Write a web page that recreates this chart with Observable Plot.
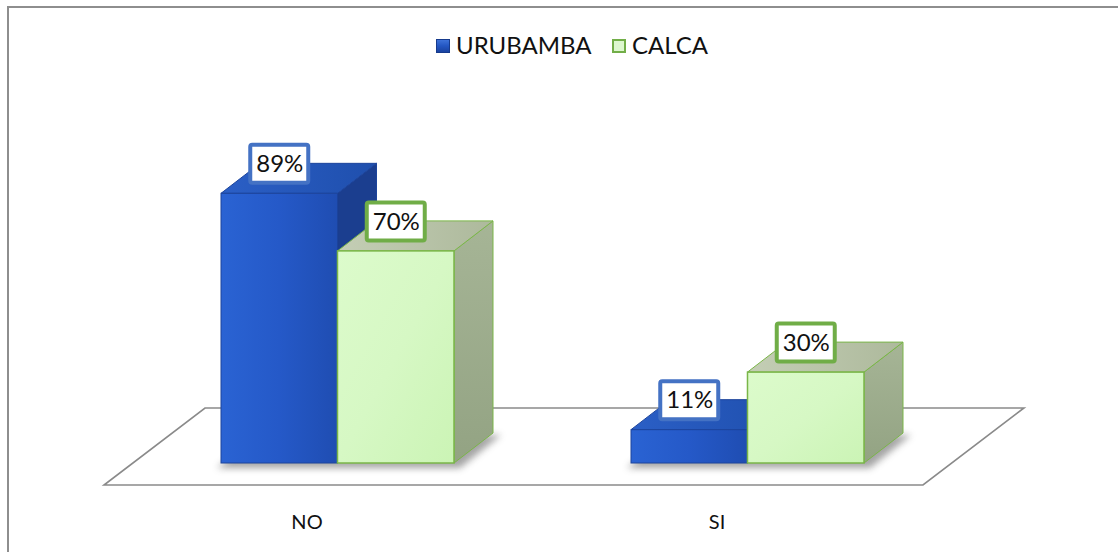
<!DOCTYPE html>
<html>
<head>
<meta charset="utf-8">
<script src="https://cdn.jsdelivr.net/npm/d3@7"></script>
<script src="https://cdn.jsdelivr.net/npm/@observablehq/plot@0.6"></script>
<style>
  html, body { margin: 0; padding: 0; background: #fff; }
  #wrap { position: relative; width: 1118px; height: 552px; overflow: hidden; font-family: Lato, "Open Sans", sans-serif; }
  #frame { position: absolute; left: 7px; top: 6px; width: 1300px; height: 800px; border-left: 2px solid #8e8e8e; border-top: 2px solid #8e8e8e; box-sizing: border-box; }
  #chart { position: absolute; left: 0; top: 0; }
  .lg-sw { position: absolute; width: 14px; height: 14px; box-sizing: border-box; }
  .lg-tx { position: absolute; font-size: 24px; line-height: 24px; color: #111; white-space: nowrap; }
</style>
</head>
<body>
<div id="wrap">
  <div id="frame"></div>
  <div id="chart"></div>
  <div id="legend"></div>
</div>
<script>
// ---- data ----
const categories = ["NO", "SI"];
const series = ["URUBAMBA", "CALCA"];
const urubamba = [89, 11];
const calca = [70, 30];

const rows = categories.flatMap((c, i) => [
  {cat: c, series: series[0], value: urubamba[i]},
  {cat: c, series: series[1], value: calca[i]}
]);
const rowsU = rows.filter(d => d.series === series[0]);
const rowsC = rows.filter(d => d.series === series[1]);

// ---- layout / style ----
const XR = [133, 952], PI = 0.4324, PO = 0.2138;
const BW = d3.scaleBand(categories, XR).paddingInner(PI).paddingOuter(PO).bandwidth();
const HALF = BW / 2;
const DX = 39, DY = -30;              // bar depth
const FF = [-29, 22], FB = [72, -55]; // floor front/back offsets

const pal = {
  [series[0]]: {front: "url(#gBlueFront)", top: "url(#gBlueTop)", side: "#1b3e8f", stroke: "#1c449c", box: "#4472c4"},
  [series[1]]: {front: "url(#gGreenFront)", top: "url(#gGreenTop)", side: "url(#gGreenSide)", stroke: "#7ab648", box: "#70ad47"}
};

const pathOf = pts => "M" + pts.map(p => p.join(",")).join("L") + "Z";
const bwOf = x => (x.bandwidth ? x.bandwidth() : BW);

function defsMark() {
  const g = d3.create("svg:g");
  const defs = g.append("defs");
  const lin = (id, stops, x2 = "0", y2 = "1") => {
    const lg = defs.append("linearGradient").attr("id", id).attr("x1", 0).attr("y1", 0).attr("x2", x2).attr("y2", y2);
    stops.forEach(([o, c]) => lg.append("stop").attr("offset", o).attr("stop-color", c));
  };
  lin("gBlueFront", [[0, "#2a63d3"], [0.5, "#2559c8"], [1, "#1f4db2"]], "1", "0");
  lin("gBlueTop", [[0, "#2b5fc6"], [1, "#1f4fad"]], "1", "0");
  lin("gGreenFront", [[0, "#dcfbcb"], [0.5, "#d6f8c4"], [1, "#cbf4b5"]], "1", "1");
  lin("gGreenTop", [[0, "#c4ceb5"], [1, "#adb99c"]], "1", "0");
  lin("gGreenSide", [[0, "#a6b596"], [1, "#93a383"]], "0", "1");
  const f = defs.append("filter").attr("id", "fShadow").attr("x", "-20%").attr("y", "-50%").attr("width", "140%").attr("height", "200%");
  f.append("feGaussianBlur").attr("stdDeviation", 3.5);
  return g.node();
}

function floorMark(index, scales) {
  const x = scales.x, y = scales.y;
  const r = x.range ? x.range() : XR;
  const x0 = r[0], x1 = r[1], y0 = y(0);
  const g = d3.create("svg:g");
  g.append("path")
    .attr("d", pathOf([[x0 + FF[0], y0 + FF[1]], [x1 + FF[0], y0 + FF[1]], [x1 + FB[0], y0 + FB[1]], [x0 + FB[0], y0 + FB[1]]]))
    .attr("fill", "#fff").attr("stroke", "#8a8a8a").attr("stroke-width", 1.6);
  // soft shadows under each bar group
  for (const c of categories) {
    const xa = x(c), bw = bwOf(x), yb = y(0);
    g.append("path")
      .attr("d", pathOf([[xa - 4, yb + 5], [xa + bw + 6, yb + 5], [xa + bw + DX + 8, yb + DY + 2], [xa + DX, yb + DY + 2]]))
      .attr("fill", "#5a5a5a").attr("opacity", 0.55).attr("filter", "url(#fShadow)");
  }
  return g.node();
}

function facesMark(data) {
  return (index, scales) => {
    const x = scales.x, y = scales.y, half = bwOf(x) / 2;
    const g = d3.create("svg:g");
    for (const d of data) {
      const p = pal[d.series];
      const xa = x(d.cat) + (d.series === series[0] ? 0 : half), xb = xa + half;
      const yt = y(d.value), yb = y(0);
      g.append("path").attr("d", pathOf([[xb, yt], [xb + DX, yt + DY], [xb + DX, yb + DY], [xb, yb]]))
        .attr("fill", p.side).attr("stroke", p.stroke).attr("stroke-width", 1).attr("stroke-linejoin", "round");
      g.append("path").attr("d", pathOf([[xa, yt], [xb, yt], [xb + DX, yt + DY], [xa + DX, yt + DY]]))
        .attr("fill", p.top).attr("stroke", p.stroke).attr("stroke-width", 1).attr("stroke-linejoin", "round");
    }
    return g.node();
  };
}

function boxesMark(index, scales) {
  const x = scales.x, y = scales.y, half = bwOf(x) / 2;
  const g = d3.create("svg:g");
  for (const d of rows) {
    const cx = x(d.cat) + (d.series === series[0] ? half / 2 : 1.5 * half);
    const cy = y(d.value) - 29.5;
    g.append("rect").attr("x", cx - 29).attr("y", cy - 19).attr("width", 58).attr("height", 38)
      .attr("rx", 2).attr("fill", "#fff").attr("stroke", pal[d.series].box).attr("stroke-width", 4);
  }
  return g.node();
}

const chart = Plot.plot({
  width: 1118,
  height: 552,
  marginTop: 160,
  marginBottom: 89,
  marginLeft: XR[0],
  marginRight: 1118 - XR[1],
  x: {domain: categories, range: XR, paddingInner: PI, paddingOuter: PO, axis: null},
  y: {domain: [0, 100], axis: null},
  style: {background: "transparent", fontFamily: "Lato, 'Open Sans', sans-serif", overflow: "visible"},
  marks: [
    defsMark,
    floorMark,
    facesMark(rowsU),
    Plot.barY(rowsU, {x: "cat", y: "value", insetRight: HALF, fill: pal[series[0]].front, stroke: pal[series[0]].stroke, strokeWidth: 1}),
    facesMark(rowsC),
    Plot.barY(rowsC, {x: "cat", y: "value", insetLeft: HALF, fill: pal[series[1]].front, stroke: pal[series[1]].stroke, strokeWidth: 1.5}),
    boxesMark,
    Plot.text(rowsU, {x: "cat", y: "value", text: d => d.value + "%", dx: -HALF / 2, dy: -29.5, fontSize: 24, fill: "#111"}),
    Plot.text(rowsC, {x: "cat", y: "value", text: d => d.value + "%", dx: HALF / 2, dy: -29.5, fontSize: 24, fill: "#111"}),
    Plot.text(categories, {x: d => d, y: () => 0, text: d => d, dx: -31, dy: 59, fontSize: 20, fill: "#111"})
  ]
});
document.getElementById("chart").appendChild(chart);

// ---- legend ----
const legend = document.getElementById("legend");
const legendItems = [
  {name: series[0], sx: 436, tx: 456, bg: "linear-gradient(180deg,#3d72d9 0%,#2356c2 50%,#1a43a0 100%)", border: "1px solid #163a8c"},
  {name: series[1], sx: 612, tx: 632, bg: "#ddf7cf", border: "2px solid #72ae48"}
];
for (const it of legendItems) {
  const sw = document.createElement("div");
  sw.className = "lg-sw";
  sw.style.left = it.sx + "px"; sw.style.top = "39px";
  sw.style.background = it.bg; sw.style.border = it.border;
  legend.appendChild(sw);
  const tx = document.createElement("div");
  tx.className = "lg-tx";
  tx.style.left = it.tx + "px"; tx.style.top = "33px";
  tx.textContent = it.name;
  legend.appendChild(tx);
}
</script>
</body>
</html>
